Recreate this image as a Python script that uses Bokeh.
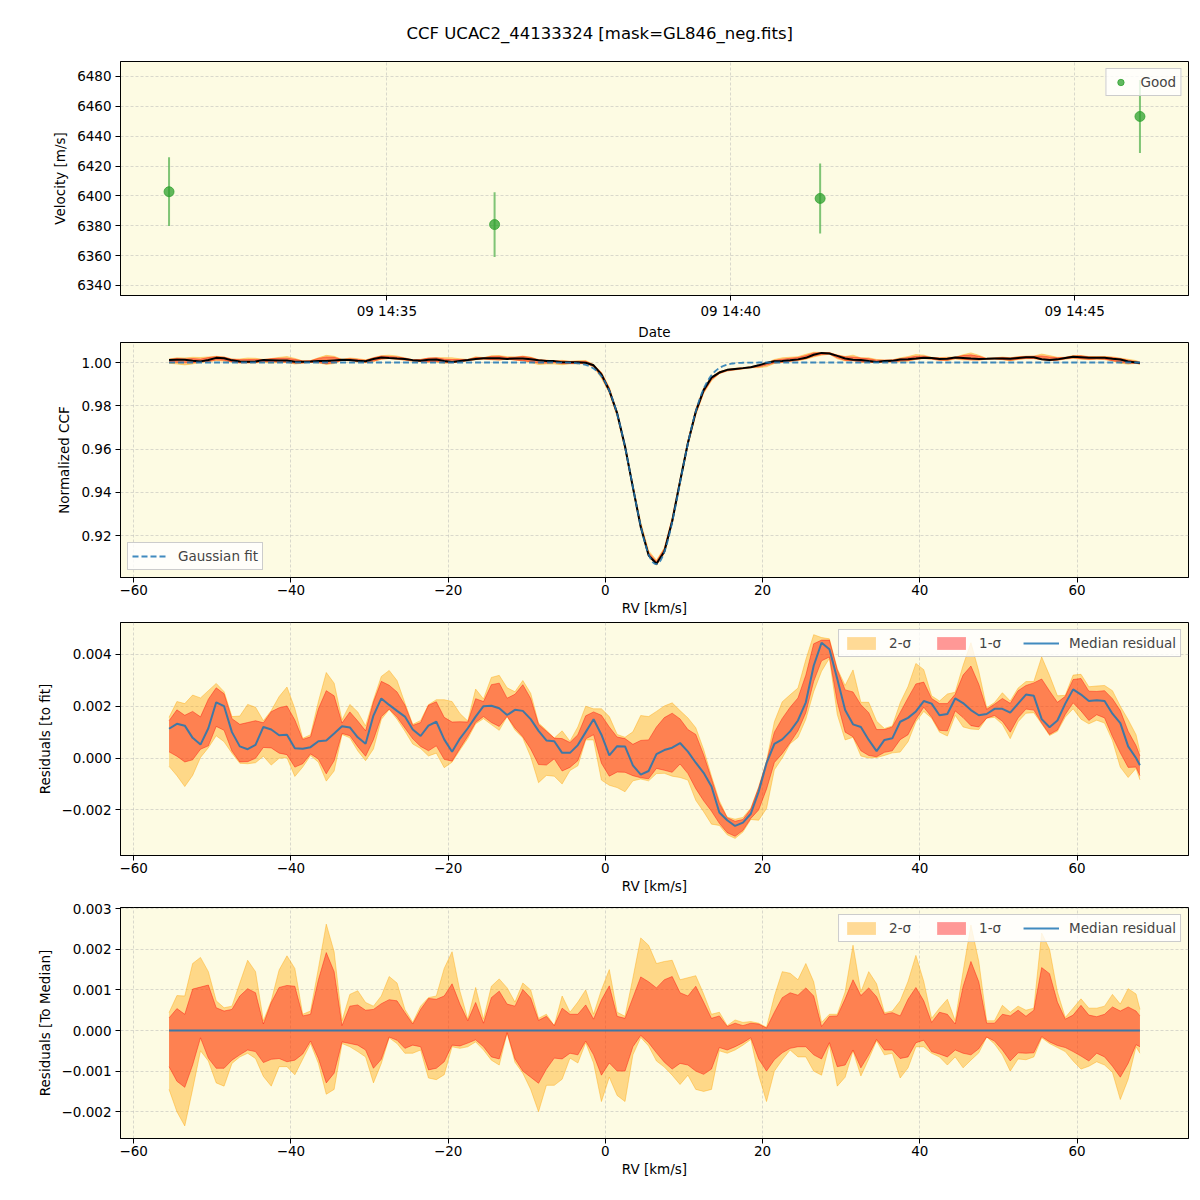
import numpy as np
import pandas as pd
from bokeh.plotting import figure
from bokeh.layouts import column
from bokeh.models import ColumnDataSource, FixedTicker, CustomJSTickFormatter, Range1d
from bokeh.embed import file_html
from bokeh.resources import INLINE

# ---------------------------------------------------------------- data
TITLE = "CCF UCAC2_44133324 [mask=GL846_neg.fits]"

# panel 1: radial velocities
obs_times = ["2023-08-09 14:31:50", "2023-08-09 14:36:34",
             "2023-08-09 14:41:18", "2023-08-09 14:45:57"]
velocity = [6402.8, 6380.8, 6398.3, 6453.2]
velocity_err = [23.0, 21.7, 23.4, 24.4]
date_ticks = ["2023-08-09 14:35", "2023-08-09 14:40", "2023-08-09 14:45"]
vel_ticks = [6340, 6360, 6380, 6400, 6420, 6440, 6460, 6480]

# RV grid [km/s]
rv = np.append(np.arange(-55.5, 68.0, 1.0), 68.0)

# Gaussian fit parameters
fit_center = 6.45
fit_sigma = 3.0
fit_depth = 0.0932
fit_continuum = 1.0

# median residual to fit (units of 1e-3)
median_res = [
    1.13, 1.32, 1.25, 0.78, 0.52, 1.15, 2.15, 2.00, 1.00, 0.45,
    0.34, 0.51, 1.20, 1.10, 0.88, 0.90, 0.38, 0.36, 0.42, 0.65,
    0.68, 0.95, 1.23, 1.18, 0.80, 0.55, 1.64, 2.30, 2.05, 1.82,
    1.60, 1.10, 0.85, 1.25, 1.40, 0.72, 0.24, 0.75, 1.15, 1.60,
    2.00, 2.02, 1.92, 1.66, 1.86, 1.82, 1.50, 1.05, 0.68, 0.65,
    0.20, 0.20, 0.50, 1.00, 1.50, 0.90, 0.10, 0.46, 0.45, -0.28,
    -0.64, -0.50, 0.15, 0.31, 0.40, 0.58, 0.25, -0.18, -0.57, -1.10,
    -2.10, -2.40, -2.62, -2.49, -2.15, -1.30, -0.20, 0.55, 0.72, 1.03,
    1.45, 2.15, 3.56, 4.45, 4.20, 3.05, 1.85, 1.30, 1.20, 0.70,
    0.27, 0.70, 0.76, 1.40, 1.55, 1.80, 2.20, 2.10, 1.65, 1.70,
    2.30, 2.12, 1.85, 1.65, 1.70, 1.90, 1.90, 1.75, 2.10, 2.45,
    2.40, 1.50, 1.19, 1.45, 2.10, 2.65, 2.45, 2.20, 2.23, 2.20,
    1.71, 1.35, 0.45, 0.00, -0.28,
]

# band offsets relative to the median CCF (units of 1e-3)
sig1_hi = [
    0.31, 0.54, 0.40, 1.02, 1.07, 1.12, 0.56, 0.48, 0.52, 0.85,
    1.03, 0.93, 0.16, 0.69, 1.06, 1.11, 1.09, 0.36, 0.40, 1.25,
    1.92, 1.45, 0.12, 0.60, 0.63, 0.50, 0.52, 0.66, 0.76, 0.73,
    0.44, 0.16, 0.52, 0.79, 0.77, 0.85, 1.15, 0.65, 0.24, 0.69,
    0.18, 0.81, 0.97, 0.65, 0.60, 1.01, 0.80, 0.25, 0.35, 0.12,
    0.55, 0.40, 0.40, 0.63, 0.28, 0.75, 1.10, 0.35, 0.30, 0.81,
    1.32, 1.20, 1.05, 1.25, 1.33, 0.93, 0.85, 1.09, 0.70, 0.30,
    0.36, 0.10, 0.18, 0.12, 0.18, 0.16, 0.06, 0.45, 0.81, 0.93,
    0.87, 1.05, 0.85, 0.10, 0.35, 0.36, 0.78, 1.25, 0.86, 1.05,
    0.83, 0.40, 0.44, 0.36, 0.77, 1.06, 0.73, 0.20, 0.45, 0.40,
    0.16, 1.08, 1.70, 1.20, 0.18, 0.18, 0.40, 0.36, 0.50, 0.35,
    0.50, 1.55, 1.40, 0.70, 0.28, 0.38, 0.62, 0.38, 0.34, 0.40,
    0.58, 0.48, 0.58, 0.48, 0.36,
]
sig2_hi = [
    0.44, 0.86, 0.85, 1.65, 1.80, 1.45, 0.73, 0.56, 0.60, 1.17,
    1.73, 1.45, 0.24, 0.73, 1.49, 1.84, 1.53, 0.40, 0.48, 1.53,
    2.62, 1.94, 0.24, 0.89, 0.98, 0.69, 0.60, 0.85, 1.33, 1.17,
    0.52, 0.20, 0.60, 0.81, 0.85, 1.53, 1.94, 0.97, 0.28, 1.06,
    0.28, 1.09, 1.27, 1.05, 0.70, 1.17, 1.00, 0.30, 0.40, 0.12,
    0.85, 0.45, 0.70, 1.00, 0.40, 1.00, 1.50, 0.45, 0.35, 1.29,
    2.28, 2.10, 1.65, 1.70, 1.73, 1.25, 1.30, 1.35, 0.90, 0.40,
    0.45, 0.12, 0.26, 0.20, 0.22, 0.18, 0.08, 0.85, 1.45, 1.41,
    1.25, 1.65, 1.20, 0.20, 0.40, 0.40, 0.95, 2.10, 0.95, 1.45,
    1.15, 0.44, 0.48, 0.73, 1.21, 1.85, 1.21, 0.30, 0.55, 0.77,
    0.24, 1.45, 2.60, 1.70, 0.24, 0.24, 0.62, 0.45, 0.60, 0.50,
    0.55, 2.40, 2.00, 0.95, 0.32, 0.55, 0.78, 0.55, 0.55, 0.60,
    0.89, 0.65, 1.03, 0.90, 0.52,
]
sig1_lo = [
    -0.89, -1.25, -1.40, -0.85, -0.18, -0.68, -0.93, -0.93, -0.73, -0.60,
    -0.48, -0.52, -0.79, -0.71, -0.69, -0.77, -0.73, -0.58, -0.26, -0.69,
    -1.29, -1.05, -0.28, -0.32, -0.36, -0.48, -0.93, -0.71, -0.16, -0.24,
    -0.44, -0.36, -0.40, -0.97, -0.93, -0.77, -0.36, -0.38, -0.31, -0.23,
    -0.40, -0.65, -0.70, -0.05, -0.70, -1.00, -1.15, -1.30, -0.95, -0.68,
    -0.70, -0.56, -0.60, -0.26, -0.60, -1.10, -0.80, -1.00, -1.00, -0.40,
    -0.12, -0.30, -0.55, -0.78, -0.95, -0.81, -0.85, -1.00, -1.08, -0.95,
    -0.42, -0.48, -0.40, -0.30, -0.18, -0.70, -1.00, -0.72, -0.55, -0.44,
    -0.40, -0.40, -0.60, -0.70, -0.30, -0.89, -0.85, -0.48, -0.92, -0.60,
    -0.22, -0.48, -0.48, -0.69, -0.65, -0.30, -0.24, -0.52, -0.58, -0.65,
    -0.48, -0.56, -0.60, -0.45, -0.16, -0.26, -0.48, -0.75, -0.55, -0.56,
    -0.55, -0.15, -0.28, -0.37, -0.42, -0.52, -0.63, -0.75, -0.56, -0.65,
    -0.88, -1.15, -0.81, -0.35, -0.40,
]
sig2_lo = [
    -1.45, -2.00, -2.35, -1.45, -0.50, -0.75, -1.29, -1.37, -0.81, -0.65,
    -0.56, -0.69, -1.13, -1.37, -0.89, -0.89, -1.09, -0.71, -0.32, -0.81,
    -1.57, -1.45, -0.32, -0.40, -0.52, -0.65, -1.29, -0.81, -0.18, -0.32,
    -0.56, -0.56, -0.48, -1.17, -1.21, -1.09, -0.40, -0.44, -0.40, -0.28,
    -0.48, -0.73, -0.85, -0.06, -0.78, -1.05, -1.45, -2.00, -1.35, -1.35,
    -1.20, -0.68, -0.80, -0.30, -0.80, -1.75, -1.15, -1.60, -1.75, -0.60,
    -0.17, -0.38, -0.75, -0.90, -1.10, -1.33, -1.10, -1.45, -1.50, -1.45,
    -0.50, -0.56, -0.48, -0.36, -0.22, -1.10, -1.75, -1.00, -0.72, -0.48,
    -0.65, -0.65, -1.00, -1.10, -0.35, -1.37, -1.15, -0.50, -1.12, -0.70,
    -0.25, -0.60, -0.56, -1.17, -0.92, -0.40, -0.40, -0.56, -0.65, -0.85,
    -0.65, -0.92, -0.73, -0.55, -0.16, -0.33, -0.60, -1.00, -0.70, -0.72,
    -0.65, -0.18, -0.32, -0.42, -0.52, -0.75, -0.95, -0.88, -0.77, -0.85,
    -1.03, -1.70, -1.20, -0.40, -0.56,
]

rv_ticks = [-60, -40, -20, 0, 20, 40, 60]
ccf_ticks = [0.92, 0.94, 0.96, 0.98, 1.00]
res_ticks = [-0.002, 0.0, 0.002, 0.004]
med_ticks = [-0.002, -0.001, 0.0, 0.001, 0.002, 0.003]

# ---------------------------------------------------------------- derived
for arr in (median_res, sig1_hi, sig2_hi, sig1_lo, sig2_lo):
    assert len(arr) == len(rv), len(arr)

scale = 1e-3
med = np.array(median_res) * scale
o1h, o2h = np.array(sig1_hi) * scale, np.array(sig2_hi) * scale
o1l, o2l = np.array(sig1_lo) * scale, np.array(sig2_lo) * scale


def gauss(x):
    return fit_continuum - fit_depth * np.exp(-0.5 * ((x - fit_center) / fit_sigma) ** 2)


fit_grid = gauss(rv)
fit_x = np.linspace(rv[0], rv[-1], 800)
fit_y = gauss(fit_x)

t_ms = pd.to_datetime(obs_times).astype("int64").to_numpy() / 1e6
tick_ms = list(pd.to_datetime(date_ticks).astype("int64").to_numpy() / 1e6)
vel = np.array(velocity)
verr = np.array(velocity_err)

FONT = "DejaVu Sans"
FS = "13.5px"
BG = "#fdfbe3"
GREEN = "#2ca02c"
BLUE = "#1f77b4"
ORANGE = "#ffa500"
RED = "#ff0000"
FRAME_W = 1068
LEFT = 120

minus_js = "return tick.toFixed(%d).replace('-', '\\u2212');"


def style(p, xlabel, ylabel):
    p.background_fill_color = BG
    p.border_fill_color = "white"
    p.outline_line_color = "black"
    p.outline_line_width = 1
    p.outline_line_alpha = 1
    p.xaxis.axis_label = xlabel
    p.yaxis.axis_label = ylabel
    for ax in (p.xaxis[0], p.yaxis[0]):
        ax.axis_line_color = "black"
        ax.major_tick_line_color = "black"
        ax.major_tick_out = 5
        ax.major_tick_in = 0
        ax.minor_tick_line_color = None
        ax.major_label_text_font = FONT
        ax.major_label_text_font_size = FS
        ax.major_label_text_color = "black"
        ax.axis_label_text_font = FONT
        ax.axis_label_text_font_size = FS
        ax.axis_label_text_font_style = "normal"
        ax.axis_label_text_color = "black"
    p.xaxis.major_label_standoff = 2
    p.xaxis.axis_label_standoff = 2
    p.yaxis.major_label_standoff = 4
    p.yaxis.axis_label_standoff = 6
    p.grid.grid_line_color = "#b0b0b0"
    p.grid.grid_line_alpha = 0.6
    p.grid.grid_line_dash = "3 2"
    p.grid.grid_line_width = 0.8


def style_legend(p, loc, horizontal=False):
    lg = p.legend[0]
    lg.location = loc
    lg.label_text_font = FONT
    lg.label_text_font_size = FS
    lg.background_fill_color = "white"
    lg.background_fill_alpha = 0.8
    lg.border_line_color = "#cccccc"
    lg.border_line_alpha = 1
    lg.margin = 7
    lg.padding = 4
    lg.label_standoff = 10
    lg.glyph_width = 36
    lg.glyph_height = 16
    lg.label_height = 18
    if horizontal:
        lg.orientation = "horizontal"
        lg.spacing = 22


# ---------------------------------------------------------------- panel 1
span = t_ms.max() - t_ms.min()
p1 = figure(frame_width=FRAME_W, frame_height=234, output_backend="svg",
            toolbar_location=None, x_axis_type="datetime",
            x_range=Range1d(t_ms.min() - 0.05 * span, t_ms.max() + 0.05 * span),
            y_range=Range1d(6333.3, 6490.0),
            min_border_left=LEFT, min_border_right=4, min_border_top=61, min_border_bottom=46)
style(p1, "Date", "Velocity [m/s]")
p1.xaxis.ticker = FixedTicker(ticks=tick_ms)
p1.xaxis.formatter = CustomJSTickFormatter(code="""
const d = new Date(tick);
const q = (n) => String(n).padStart(2, '0');
return q(d.getUTCDate()) + ' ' + q(d.getUTCHours()) + ':' + q(d.getUTCMinutes());
""")
p1.yaxis.ticker = FixedTicker(ticks=vel_ticks)
src1 = ColumnDataSource(dict(t=t_ms, v=vel, lo=vel - verr, hi=vel + verr))
p1.segment(x0="t", y0="lo", x1="t", y1="hi", source=src1,
           line_color=GREEN, line_alpha=0.6, line_width=2)
p1.scatter(x="t", y="v", source=src1, size=10, fill_color=GREEN, fill_alpha=0.75,
           line_color=GREEN, line_alpha=0.75, legend_label="Good")
style_legend(p1, "top_right")
p1.legend[0].glyph_width = 20
p1.title.text = TITLE
p1.title.align = "left"
p1.title.text_font = FONT
p1.title.text_font_size = "16.5px"
p1.title.text_font_style = "normal"
p1.title.text_color = "black"
p1.title.offset = 286
p1.title.standoff = 37

# ---------------------------------------------------------------- panels 2-4
rv_range = (rv[0] - 0.05 * (rv[-1] - rv[0]), rv[-1] + 0.05 * (rv[-1] - rv[0]))


def rv_fig(h, yr, top, bottom):
    p = figure(frame_width=FRAME_W, frame_height=h, output_backend="svg",
               toolbar_location=None, x_range=Range1d(*rv_range), y_range=Range1d(*yr),
               min_border_left=LEFT, min_border_right=4, min_border_top=top,
               min_border_bottom=bottom)
    p.xaxis.ticker = FixedTicker(ticks=rv_ticks)
    p.xaxis.formatter = CustomJSTickFormatter(code=minus_js % 0)
    return p


def bands(p, base, lab=True):
    kw2 = dict(legend_label="2-\u03c3") if lab else {}
    kw1 = dict(legend_label="1-\u03c3") if lab else {}
    p.varea(x=rv, y1=base + o2l, y2=base + o2h, fill_color=ORANGE, fill_alpha=0.4, **kw2)
    p.line(rv, base + o2l, line_color=ORANGE, line_alpha=0.4, line_width=1)
    p.line(rv, base + o2h, line_color=ORANGE, line_alpha=0.4, line_width=1)
    p.varea(x=rv, y1=base + o1l, y2=base + o1h, fill_color=RED, fill_alpha=0.4, **kw1)
    p.line(rv, base + o1l, line_color=RED, line_alpha=0.4, line_width=1)
    p.line(rv, base + o1h, line_color=RED, line_alpha=0.4, line_width=1)


p2 = rv_fig(235, (0.9006, 1.00925), 0, 45)
style(p2, "RV [km/s]", "Normalized CCF")
p2.yaxis.ticker = FixedTicker(ticks=ccf_ticks)
p2.yaxis.formatter = CustomJSTickFormatter(code=minus_js % 2)
bands(p2, fit_grid + med, lab=False)
p2.line(rv, fit_grid + med, line_color="black", line_width=2)
p2.line(fit_x, fit_y, line_color=BLUE, line_alpha=0.85, line_width=1.8,
        line_dash="6 3", legend_label="Gaussian fit")
style_legend(p2, "bottom_left")

p3 = rv_fig(233, (-0.00376, 0.00523), 0, 44)
style(p3, "RV [km/s]", "Residuals [to fit]")
p3.yaxis.ticker = FixedTicker(ticks=res_ticks)
p3.yaxis.formatter = CustomJSTickFormatter(code=minus_js % 3)
bands(p3, med)
p3.line(rv, med, line_color=BLUE, line_alpha=0.85, line_width=2,
        legend_label="Median residual")
style_legend(p3, "top_right", horizontal=True)

p4 = rv_fig(231, (-0.00266, 0.00303), 8, 44)
style(p4, "RV [km/s]", "Residuals [To Median]")
p4.yaxis.ticker = FixedTicker(ticks=med_ticks)
p4.yaxis.formatter = CustomJSTickFormatter(code=minus_js % 3)
bands(p4, med - med)
p4.line(rv, med - med, line_color=BLUE, line_alpha=0.85, line_width=2,
        legend_label="Median residual")
style_legend(p4, "top_right", horizontal=True)

layout = column(p1, p2, p3, p4, spacing=0)
open("out.html", "w").write(file_html(layout, INLINE))
